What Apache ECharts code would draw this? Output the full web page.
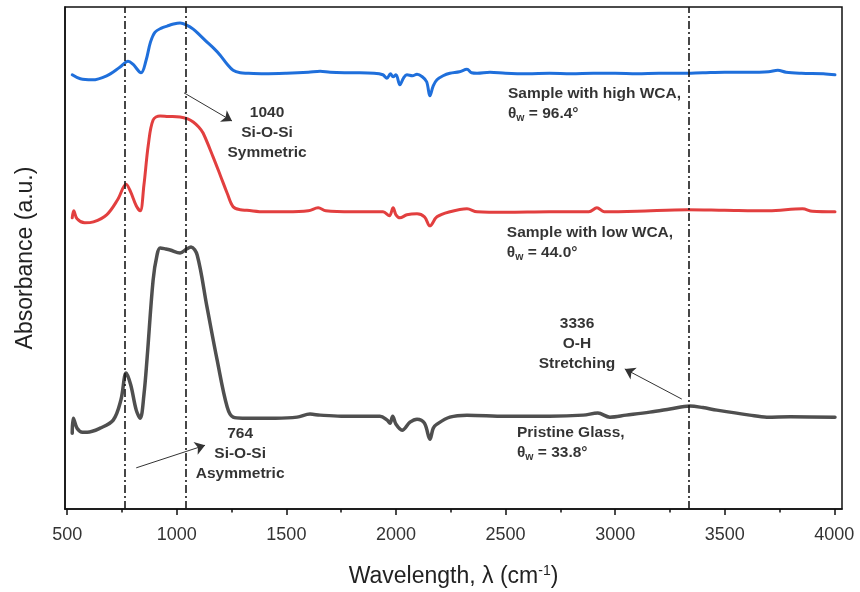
<!DOCTYPE html>
<html>
<head>
<meta charset="utf-8">
<script src="https://cdn.jsdelivr.net/npm/echarts@6/dist/echarts.min.js"></script>
<style>
  html, body { margin: 0; padding: 0; background: #fff; }
  #chart { width: 860px; height: 592px; }
</style>
</head>
<body>
<div id="chart"></div>
<script>
// FTIR spectra: wavenumber (cm-1) and offset absorbance (a.u.)
const highWcaWave = [523,560,614,680,740,778,800,837,860,880,901,930,956,985,1015,1045,1075,1105,1138,1168,1198,1230,1257,1290,1320,1400,1500,1600,1654,1700,1800,1900,1940,1959,1975,1987,2000,2018,2035,2050,2075,2096,2120,2140,2155,2170,2187,2215,2246,2290,2324,2345,2370,2429,2500,2600,2700,2800,2900,3000,3100,3200,3300,3400,3500,3600,3700,3742,3780,3850,3950,4003];
const highWcaAbs  = [0.865,0.857,0.855,0.863,0.880,0.892,0.886,0.869,0.894,0.930,0.950,0.958,0.962,0.966,0.968,0.964,0.956,0.944,0.930,0.918,0.904,0.886,0.874,0.869,0.868,0.867,0.868,0.870,0.872,0.870,0.869,0.868,0.865,0.858,0.867,0.861,0.865,0.845,0.859,0.865,0.863,0.866,0.861,0.851,0.823,0.843,0.855,0.863,0.868,0.871,0.876,0.869,0.868,0.870,0.868,0.867,0.868,0.867,0.868,0.868,0.867,0.868,0.868,0.869,0.870,0.870,0.871,0.874,0.870,0.868,0.867,0.865];

const lowWcaWave = [523,530,545,580,620,680,730,769,790,815,833,850,870,892,924,960,1015,1050,1075,1100,1120,1166,1200,1230,1257,1290,1320,1400,1500,1600,1645,1680,1800,1941,1970,1987,2000,2018,2050,2096,2130,2155,2187,2246,2324,2370,2500,2700,2880,2917,2950,3100,3332,3500,3700,3855,3900,4003];
const lowWcaAbs  = [0.580,0.594,0.578,0.570,0.572,0.586,0.616,0.647,0.631,0.604,0.594,0.645,0.725,0.775,0.783,0.782,0.781,0.777,0.771,0.761,0.749,0.701,0.663,0.629,0.602,0.596,0.595,0.592,0.592,0.594,0.600,0.594,0.592,0.592,0.584,0.600,0.586,0.580,0.586,0.588,0.582,0.564,0.582,0.592,0.598,0.592,0.591,0.592,0.592,0.600,0.592,0.593,0.596,0.595,0.594,0.598,0.593,0.592];

const pristineWave = [523,528,545,570,591,650,710,745,769,790,815,833,850,865,892,910,924,950,970,1015,1045,1065,1093,1138,1184,1230,1257,1300,1348,1450,1549,1608,1654,1750,1927,1960,1973,1985,2000,2028,2064,2096,2130,2155,2170,2187,2246,2324,2500,2700,2854,2921,2976,3050,3158,3250,3341,3400,3464,3614,3692,3800,4003];
const pristineAbs  = [0.151,0.181,0.161,0.153,0.153,0.161,0.177,0.217,0.271,0.247,0.197,0.181,0.227,0.303,0.456,0.506,0.520,0.518,0.516,0.510,0.518,0.522,0.506,0.402,0.297,0.203,0.183,0.181,0.181,0.181,0.183,0.189,0.187,0.185,0.185,0.177,0.171,0.185,0.169,0.157,0.173,0.179,0.171,0.139,0.161,0.169,0.183,0.187,0.185,0.185,0.187,0.191,0.183,0.187,0.193,0.199,0.205,0.202,0.197,0.187,0.183,0.184,0.183];

// Band positions marked with vertical guide lines
const bandLines = [764, 1040, 3336];

// Tick labels on the wavenumber axis
const xTicks = [500, 1000, 1500, 2000, 2500, 3000, 3500, 4000];
const xMinorTicks = [750, 1250, 1750, 2250, 2750, 3250, 3750];

const zip = (xs, ys) => xs.map((x, i) => [x, ys[i]]);

const FONT = 'Liberation Sans, Arial, sans-serif';
const textBold = { fontFamily: FONT, fontWeight: 'bold', fontSize: 15.5, color: '#000' };
const richText = {
  t: { ...textBold, lineHeight: 20 },
  s: { ...textBold, fontSize: 10.5, lineHeight: 20, padding: [9, 0, 0, 0] }
};

// Text notes placed in data coordinates
const notes = [
  { coord: [1412, 0.750], align: 'center', text: '{t|1040}\n{t|Si-O-Si}\n{t|Symmetric}' },
  { coord: [1289, 0.110], align: 'center', text: '{t|764}\n{t|Si-O-Si}\n{t|Asymmetric}' },
  { coord: [2826, 0.329], align: 'center', text: '{t|3336}\n{t|O-H}\n{t|Stretching}' },
  { coord: [2511, 0.807], align: 'left', text: '{t|Sample with high WCA,}\n{t|θ}{s|w}{t| = 96.4°}' },
  { coord: [2506, 0.530], align: 'left', text: '{t|Sample with low WCA,}\n{t|θ}{s|w}{t| = 44.0°}' },
  { coord: [2552, 0.132], align: 'left', text: '{t|Pristine Glass,}\n{t|θ}{s|w}{t| = 33.8°}' }
];

// Arrows from the guide lines to their notes
const arrows = [
  [[1033, 0.829], [1252, 0.773]],
  [[815, 0.082], [1129, 0.127]],
  [[3304, 0.219], [3044, 0.279]]
];

const chart = echarts.init(document.getElementById('chart'), null, { renderer: 'canvas' });

const spectrum = (name, xs, ys, color, width) => ({
  name, type: 'line', data: zip(xs, ys),
  showSymbol: false, smooth: 0.35,
  lineStyle: { color, width, cap: 'round', join: 'round' },
  itemStyle: { color },
  animation: false, z: 3
});

chart.setOption({
  animation: false,
  backgroundColor: '#fff',
  grid: {
    left: 65, right: 18, top: 7, bottom: 83, outerBoundsMode: 'none', containLabel: false,
    show: true, borderColor: '#111', borderWidth: 1.5, backgroundColor: 'transparent'
  },
  xAxis: [
    {
      type: 'value', min: 490, max: 4035,
      axisLine: { show: true, lineStyle: { color: '#111', width: 1.5 } },
      axisTick: { show: true, customValues: xTicks, length: 6, lineStyle: { color: '#111', width: 1.5 } },
      axisLabel: { customValues: xTicks, formatter: v => String(v), fontSize: 18, color: '#333', margin: 17, fontFamily: FONT },
      splitLine: { show: false },
      name: '{a|Wavelength, λ (cm}{sup|-1}{a|)}',
      nameLocation: 'middle', nameGap: 54,
      nameTextStyle: {
        rich: {
          a: { fontSize: 23, color: '#222', fontFamily: FONT, lineHeight: 28 },
          sup: { fontSize: 14, color: '#222', fontFamily: FONT, lineHeight: 28, padding: [0, 0, 12, 0] }
        }
      }
    },
    {
      type: 'value', min: 490, max: 4035, position: 'bottom',
      axisLine: { show: false },
      axisTick: { show: true, customValues: xMinorTicks, length: 3.5, lineStyle: { color: '#111', width: 1.5 } },
      axisLabel: { show: false },
      splitLine: { show: false }
    }
  ],
  yAxis: {
    type: 'value', min: 0, max: 1,
    axisLine: { show: true, lineStyle: { color: '#111', width: 1.5 } },
    axisTick: { show: false }, axisLabel: { show: false }, splitLine: { show: false },
    name: 'Absorbance (a.u.)', nameLocation: 'middle', nameGap: 28,
    nameTextStyle: { fontSize: 23, color: '#222', fontFamily: FONT }
  },
  series: [
    spectrum('Sample with high WCA', highWcaWave, highWcaAbs, '#1f6fdb', 3),
    spectrum('Sample with low WCA', lowWcaWave, lowWcaAbs, '#e23f3f', 3),
    {
      ...spectrum('Pristine Glass', pristineWave, pristineAbs, '#4f4f4f', 3.5),
      markLine: {
        silent: true, symbol: 'none', animation: false,
        label: { show: false },
        lineStyle: { color: '#1a1a1a', width: 1.6, type: [8, 3, 2, 3] },
        data: bandLines.map(v => ({ xAxis: v }))
      }
    },
    {
      name: 'arrows', type: 'line', data: [[0, -1]], silent: true, showSymbol: false,
      lineStyle: { opacity: 0 },
      markLine: {
        silent: true, animation: false,
        symbol: ['none', 'arrow'], symbolSize: 10,
        label: { show: false },
        itemStyle: { color: '#222' },
        lineStyle: { color: '#333', width: 1, type: 'solid' },
        data: arrows.map(a => [{ coord: a[0] }, { coord: a[1] }])
      }
    },
    {
      name: 'notes', type: 'scatter', symbolSize: 0, silent: true, z: 5,
      data: notes.map(n => ({
        value: n.coord,
        label: {
          show: true, position: 'inside', formatter: n.text, align: n.align,
          verticalAlign: 'middle', rich: richText
        }
      }))
    }
  ]
});
</script>
</body>
</html>
